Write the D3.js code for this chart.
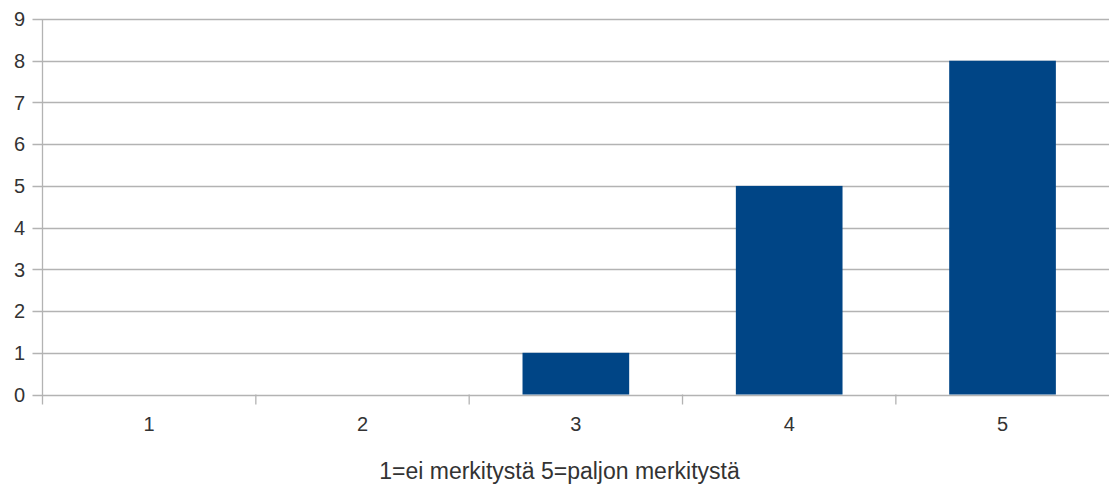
<!DOCTYPE html>
<html>
<head>
<meta charset="utf-8">
<script src="https://cdn.jsdelivr.net/npm/d3@7"></script>
<style>
  html, body { margin: 0; padding: 0; background: #fff; }
  svg { display: block; }
  text { font-family: "Liberation Sans", Arial, sans-serif; fill: #333; }
</style>
</head>
<body>
<svg id="chart" width="1109" height="486"></svg>
<script>
// Survey answers on a 1–5 scale and how many respondents chose each
const categories = ["1", "2", "3", "4", "5"];
const counts = [0, 0, 1, 5, 8];
const yTicks = [0, 1, 2, 3, 4, 5, 6, 7, 8, 9];
const xTitle = "1=ei merkitystä 5=paljon merkitystä";

const svg = d3.select("#chart");
const W = 1109, H = 486;
const plotLeft = 42.5, plotRight = 1109.2, plotTop = 19, plotBottom = 394.5;

const x = d3.scaleBand().domain(categories).range([plotLeft, plotRight]).paddingInner(0.5).paddingOuter(0.25);
const xb = d3.scaleBand().domain(categories).range([plotLeft, plotRight]);
const y = d3.scaleLinear().domain([0, 9]).range([plotBottom, plotTop]);

const gridColor = "#b3b3b3";

// horizontal gridlines
svg.append("g")
  .selectAll("line")
  .data(yTicks)
  .join("line")
  .attr("x1", plotLeft - 10)
  .attr("x2", W)
  .attr("y1", d => Math.round(y(d)) + 0.5)
  .attr("y2", d => Math.round(y(d)) + 0.5)
  .attr("stroke", gridColor)
  .attr("stroke-width", 1.3);

// y axis line
svg.append("line")
  .attr("x1", plotLeft).attr("x2", plotLeft)
  .attr("y1", plotTop).attr("y2", plotBottom + 10)
  .attr("stroke", gridColor).attr("stroke-width", 1.3);

// category separator ticks below the baseline
svg.append("g")
  .selectAll("line")
  .data(categories.slice(1))
  .join("line")
  .attr("x1", d => xb(d))
  .attr("x2", d => xb(d))
  .attr("y1", plotBottom)
  .attr("y2", plotBottom + 10)
  .attr("stroke", gridColor).attr("stroke-width", 1.3);

// bars
svg.append("g")
  .selectAll("rect")
  .data(categories.map((c, i) => ({ c, v: counts[i] })))
  .join("rect")
  .attr("x", d => x(d.c))
  .attr("width", x.bandwidth())
  .attr("y", d => y(d.v))
  .attr("height", d => y(0) - y(d.v))
  .attr("fill", "#004586");

// y tick labels
svg.append("g")
  .selectAll("text")
  .data(yTicks)
  .join("text")
  .attr("x", 25)
  .attr("y", d => y(d))
  .attr("dy", "0.36em")
  .attr("text-anchor", "end")
  .attr("font-size", 20)
  .text(d => d);

// category labels
svg.append("g")
  .selectAll("text")
  .data(categories)
  .join("text")
  .attr("x", d => xb(d) + xb.bandwidth() / 2)
  .attr("y", 431)
  .attr("text-anchor", "middle")
  .attr("font-size", 20)
  .text(d => d);

// axis title
svg.append("text")
  .attr("x", 559.5)
  .attr("y", 478.5)
  .attr("text-anchor", "middle")
  .attr("font-size", 23)
  .text(xTitle);
</script>
</body>
</html>
